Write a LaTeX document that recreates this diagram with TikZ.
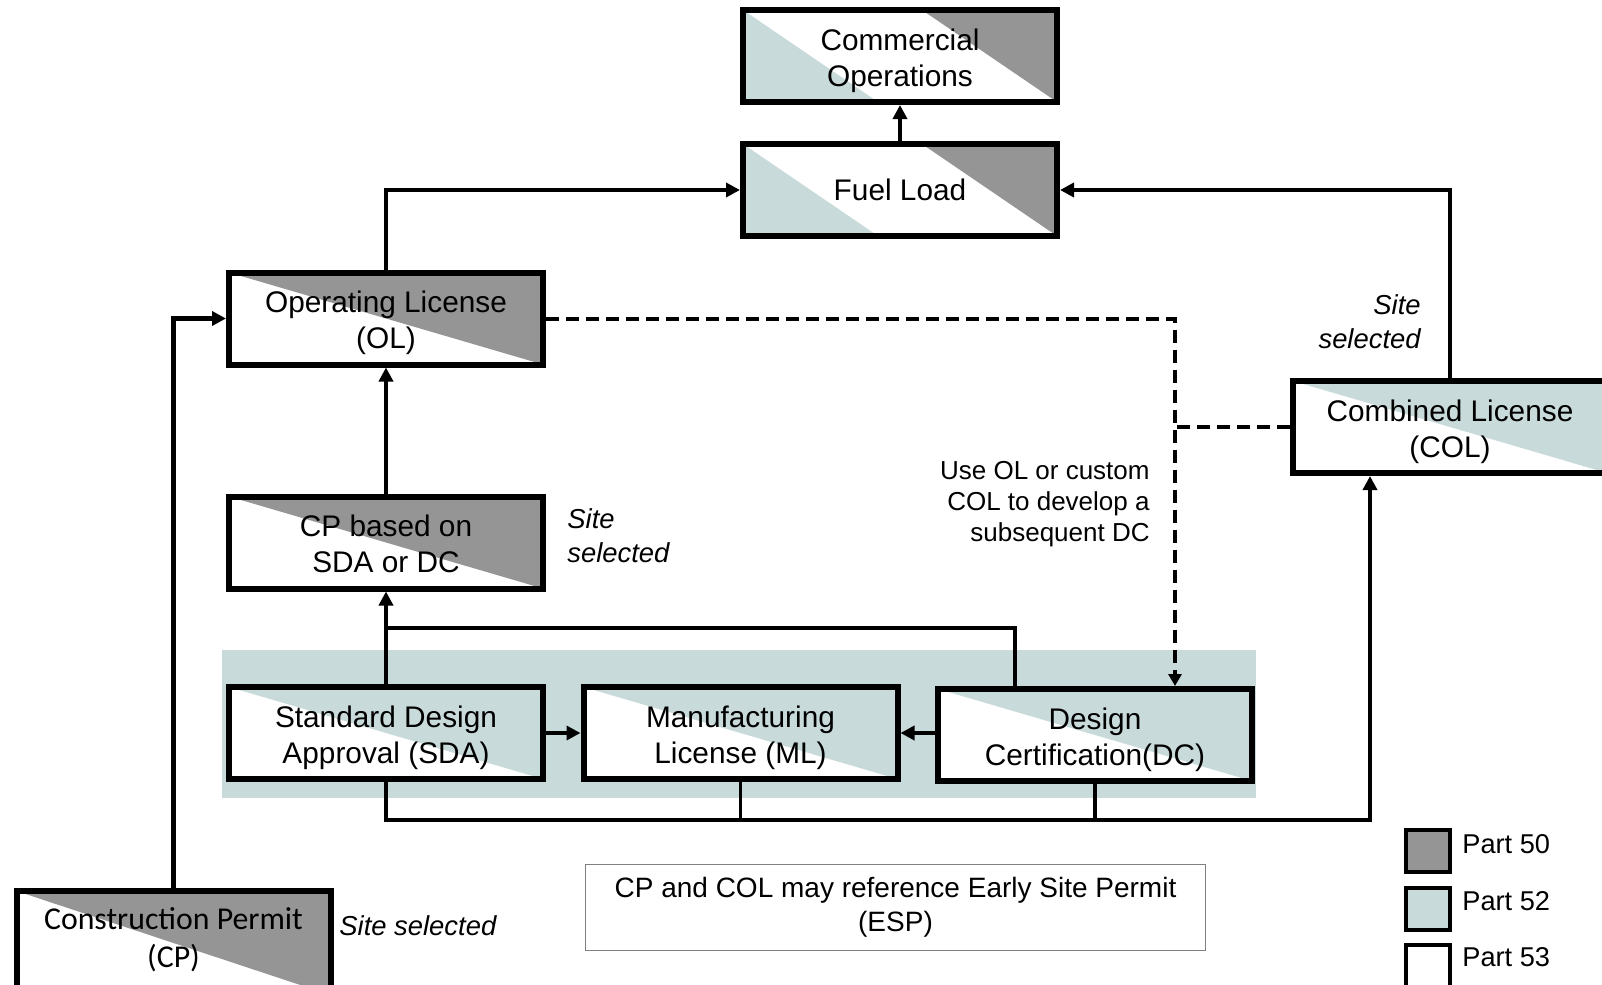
\documentclass[tikz,border=0pt]{standalone}
\usepackage{fontspec}
\setmainfont{Liberation Sans}
\newfontfamily\cpfont{Carlito}
\usetikzlibrary{arrows.meta,calc}
\definecolor{partgray}{HTML}{959595}
\definecolor{partteal}{HTML}{C9DADA}
\newcommand{\licfont}{\fontsize{14.9pt}{18pt}\selectfont}
\newcommand{\notefont}{\fontsize{13pt}{15.6pt}\selectfont}
\newcommand{\sitefont}{\fontsize{13.7pt}{17pt}\selectfont\itshape}

\begin{document}
\begin{tikzpicture}[x=0.5pt,y=-0.5pt,
		lic/.style={draw,fill=white,line width=3pt,minimum width=157pt,minimum height=46pt,align=center,inner sep=1pt,font=\licfont},
		twoline/.style={text height=33pt,text depth=3pt},
		partfifty/.style={lic,path picture={\fill[partgray] (path picture bounding box.north west) -- (path picture bounding box.north east) -- (path picture bounding box.south east) -- cycle;}},
		partfiftytwo/.style={lic,path picture={\fill[partteal] (path picture bounding box.north west) -- (path picture bounding box.north east) -- (path picture bounding box.south east) -- cycle;}},
		partmixed/.style={lic,path picture={
			\fill[partteal] (path picture bounding box.north west) -- (path picture bounding box.south west) -- ($(path picture bounding box.south west)!0.43!(path picture bounding box.south east)$) -- cycle;
			\fill[partgray] ($(path picture bounding box.north west)!0.57!(path picture bounding box.north east)$) -- (path picture bounding box.north east) -- (path picture bounding box.south east) -- cycle;}},
		conn/.style={line width=2.2pt,-{Triangle[length=7pt,width=7pt]}},
		link/.style={line width=1.8pt},
		dashlink/.style={line width=2pt,dash pattern=on 6.5pt off 3.5pt},
		site/.style={font=\sitefont,inner sep=0pt},
		legbox/.style={draw,line width=2pt,minimum width=22pt,minimum height=21pt,inner sep=0pt},
		legtext/.style={anchor=west,inner sep=0pt,font=\fontsize{13.6pt}{16pt}\selectfont}]
	\useasboundingbox (0,0) rectangle (1602,985);
	\fill[partteal] (222,650) rectangle (1256,798);
	\node[partmixed,twoline] (comops) at (900,56) {Commercial\\Operations};
	\node[partmixed] (fuel) at (900,190) {Fuel Load};
	\node[partfifty,twoline] (ol) at (386,318.5) {Operating License\\(OL)};
	\node[partfifty,twoline] (cpb) at (386,542.5) {CP based on\\SDA or DC};
	\node[partfiftytwo,twoline] (sda) at (386,733) {Standard Design\\Approval (SDA)};
	\node[partfiftytwo,twoline] (ml) at (740.5,733) {Manufacturing\\License (ML)};
	\node[partfiftytwo,twoline] (dc) at (1095,735) {Design\\Certification(DC)};
	\node[partfiftytwo,twoline] (col) at (1450,427) {Combined License\\(COL)};
	\node[partfifty,minimum height=52pt,font=\cpfont\fontsize{15.9pt}{19pt}\selectfont,text height=30pt,text depth=5.3pt] (cp) at (173.5,943) {Construction Permit\\(CP)};
	\node[draw=gray,line width=0.6pt,minimum width=310pt,minimum height=43pt,align=center,font=\fontsize{14pt}{17.2pt}\selectfont] (esp) at (895.5,907.5) {CP and COL may reference Early Site Permit\\(ESP)};
	\coordinate (merge) at (386,628);
	\coordinate (bus) at (1370,820);
	\coordinate (dcin) at ($(dc.north west)!0.75!(dc.north east)$);
	\draw[conn] (fuel.north) -- (comops.south);
	\draw[conn] (ol.north) |- (fuel.west);
	\draw[conn] (col.north) |- (fuel.east);
	\draw[conn] (cp.north) |- (ol.west);
	\draw[conn] (cpb.north) -- (ol.south);
	\draw[conn] (sda.north) -- (cpb.south);
	\draw[link] ($(dc.north west)!0.25!(dc.north east)$) |- (merge);
	\draw[conn] (sda.east) -- (ml.west);
	\draw[conn] (dc.west |- ml.east) -- (ml.east);
	\draw[conn] (sda.south) |- (bus) -- ($(col.south west)!0.25!(col.south east)$);
	\draw[link] (ml.south) -- (ml.south |- bus);
	\draw[link] (dc.south) -- (dc.south |- bus);
	\draw[dashlink,-{Triangle[length=6pt,width=6.5pt]}] (ol.east) -| (dcin);
	\draw[dashlink] (col.west) -- (col.west -| dcin);
	\node[site,anchor=west,align=left] (sitecpb) at (567,536) {Site\\selected};
	\node[site,anchor=east,align=right] (sitecol) at (1421,322) {Site\\selected};
	\node[site,anchor=west] (sitecp) at (339,926) {Site selected};
	\node[anchor=east,align=right,inner sep=0pt,font=\notefont] (dcnote) at (1150,504) {Use OL or custom\\COL to develop a\\subsequent DC};
	\node[legbox,fill=partgray] (leg50) at (1428,851) {};
	\node[legbox,fill=partteal] (leg52) at (1428,909) {};
	\node[legbox,fill=white] (leg53) at (1428,966) {};
	\node[legtext] (leg50text) at (1462,844) {Part 50};
	\node[legtext] (leg52text) at (1462,901) {Part 52};
	\node[legtext] (leg53text) at (1462,957) {Part 53};
\end{tikzpicture}
\end{document}
